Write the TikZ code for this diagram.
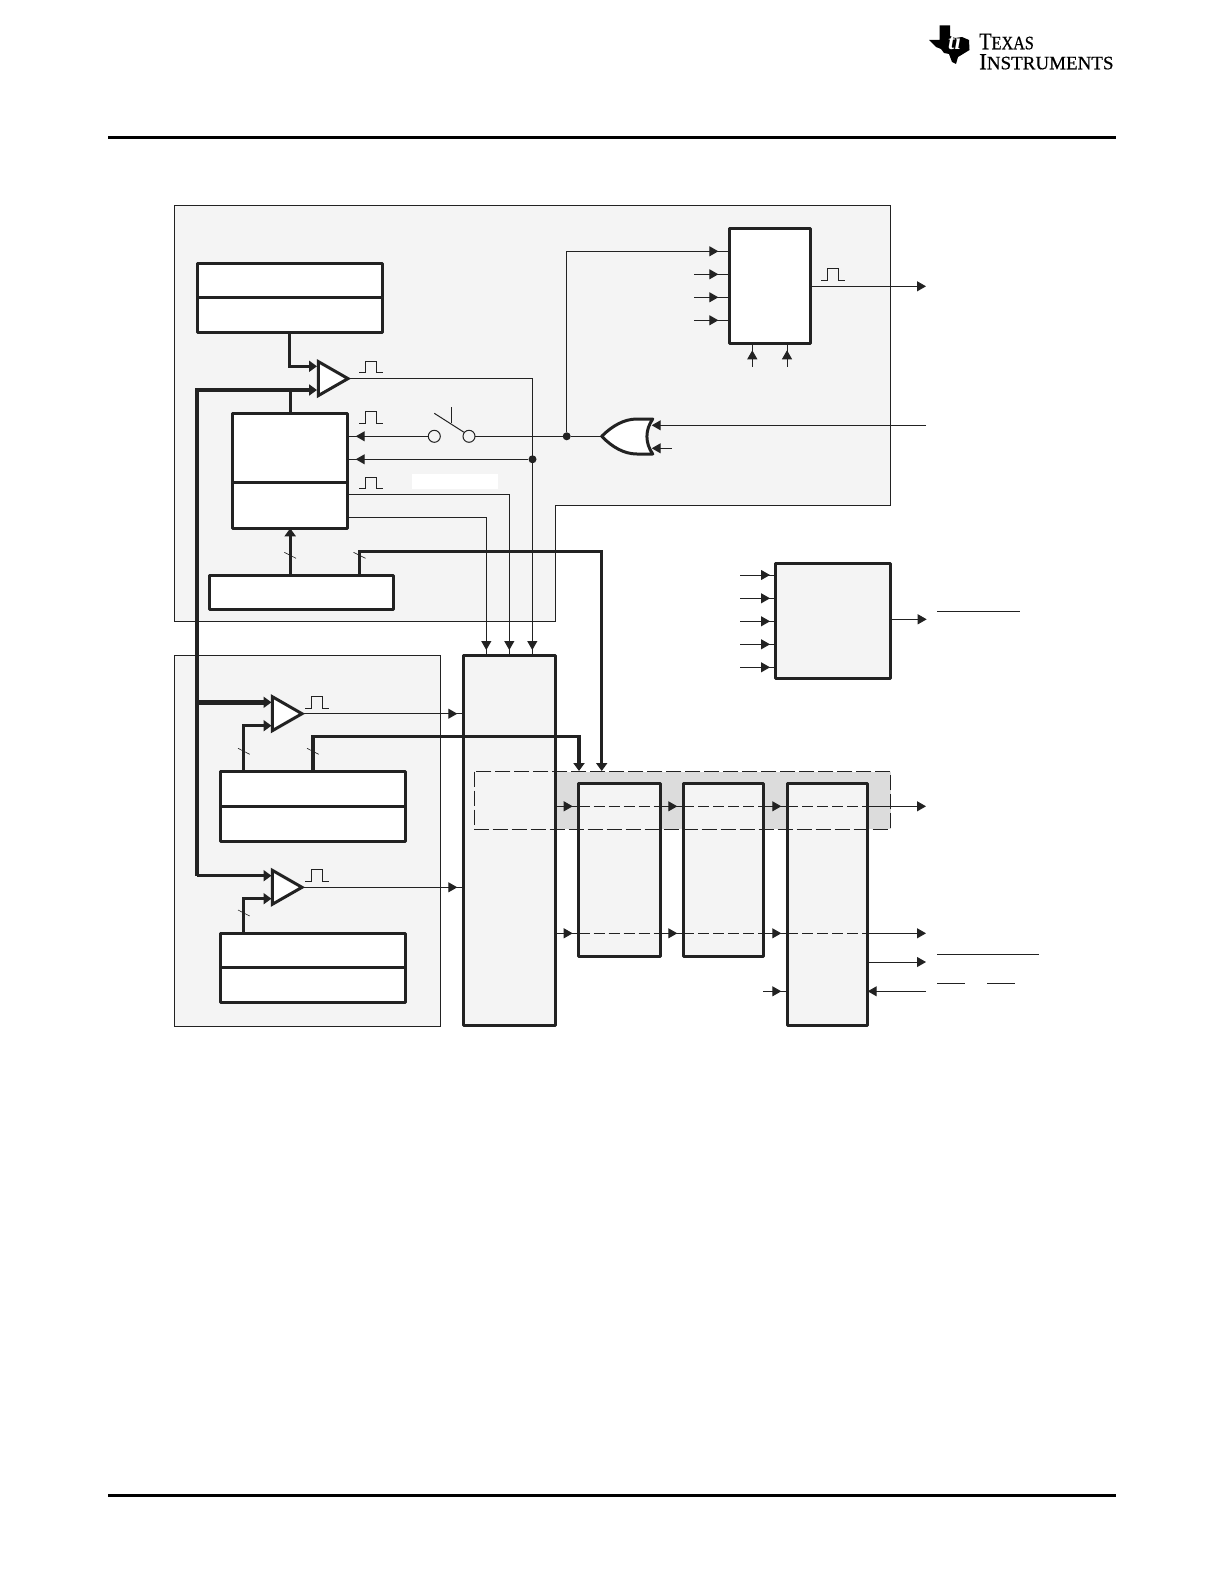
\documentclass[tikz,border=0pt]{standalone}
\usepackage{fontspec}
\setmainfont{Liberation Serif}
\usepackage{xcolor}
\usetikzlibrary{shapes.geometric,arrows.meta,decorations.markings}

\definecolor{inkdark}{HTML}{222222}
\definecolor{panelgrey}{HTML}{F4F4F4}
\definecolor{zonegrey}{HTML}{DCDCDC}

\newcommand{\pulsemark}[2]{\draw[wire,shift={(#1,#2)}] (0,0) -- (6.3,0) -- (6.3,-11.5) -- (17.5,-11.5) -- (17.5,0) -- (23.4,0);}

\tikzset{
  wire/.style={draw=inkdark,line width=1pt},
  wiretip/.style={wire,-{Triangle[length=9pt,width=10pt]}},
  flow/.style={wire,postaction={decorate},decoration={markings,mark=at position -#1pt with {\arrow[inkdark]{Triangle[length=9pt,width=10pt]}}}},
  bus/.style={draw=inkdark,line width=3.4pt,line join=miter},
  bustip/.style={bus,-{Triangle[length=8pt,width=11pt]}},
  hash/.style={draw=inkdark,line width=0.6pt},
  regbox/.style={draw=inkdark,fill=white,line width=3pt,line join=round,inner sep=0pt,outer sep=0pt},
  greybox/.style={regbox,fill=panelgrey},
  amp/.style={isosceles triangle,isosceles triangle stretches,draw=inkdark,fill=white,line width=3pt,inner sep=0pt,outer sep=0pt,minimum width=34pt,minimum height=29.7pt,anchor=apex},
  jointdot/.style={circle,fill=inkdark,inner sep=0pt,minimum size=8pt},
  pincircle/.style={circle,draw=inkdark,line width=1pt,fill=panelgrey,inner sep=0pt,outer sep=0pt,minimum size=12pt},
  dashline/.style={wire,dash pattern=on 11pt off 4pt},
  dashzone/.style={wire,dash pattern=on 15pt off 4pt},
  logotext/.style={anchor=base west,inner sep=0pt,text height=15pt,text depth=0pt},
}

\begin{document}
\begin{tikzpicture}[x=1pt,y=-1pt]
    \useasboundingbox (0,0) rectangle (1224,1584);

    % page rules
    \fill[black] (108,135.8) rectangle (1116,138.8);
    \fill[black] (108,1493.8) rectangle (1116,1496.8);

    % logo
    \fill[black] (939.5,25.5) -- (950,25.5) -- (950,36) -- (955,38) -- (962,37) -- (969,40) -- (969.5,50) -- (963,54) -- (958,57) -- (956,64) -- (952,62) -- (949,54) -- (944,53) -- (941,49) -- (936,47) -- (929,40) -- (939.5,40) -- cycle;
    \node[white,anchor=center,inner sep=0pt] (logoti) at (954.5,42) {\fontsize{23}{23}\selectfont\bfseries\itshape ti};
    \node[logotext] (logoa) at (979,49.3) {\scalebox{0.85}[1]{\addfontfeature{FakeBold=0.6}\fontsize{24}{24}\selectfont T\fontsize{19}{19}\selectfont EXAS}};
    \node[logotext] (logob) at (979,69.3) {\addfontfeature{FakeBold=0.6}\fontsize{23}{23}\selectfont I\fontsize{19}{19}\selectfont NSTRUMENTS};

    % panels
    \draw[wire,fill=panelgrey] (174.5,205.5) -- (890.5,205.5) -- (890.5,505.5) -- (555.5,505.5) -- (555.5,621.5) -- (174.5,621.5) -- cycle;
    \draw[wire,fill=panelgrey] (174.5,655.3) rectangle (440.3,1026.3);
    \fill[white] (412.3,474) rectangle (498.3,489.3);
    \fill[zonegrey] (555.3,771.7) rectangle (890.7,829.3);

    % blocks
    \node[regbox,minimum width=185.3pt,minimum height=69.3pt] (cmpshad) at (289.65,297.65) {};
    \node[regbox,minimum width=115pt,minimum height=115pt] (ctr) at (290.2,470.8) {};
    \node[regbox,minimum width=184.7pt,minimum height=34pt] (prdshad) at (301.35,592.3) {};
    \node[regbox,minimum width=81.4pt,minimum height=115pt] (timer) at (770,285.8) {};
    \node[regbox,minimum width=185.4pt,minimum height=69.6pt] (cmpb) at (313,806.5) {};
    \node[regbox,minimum width=185.4pt,minimum height=69pt] (cmpc) at (313,968.2) {};
    \node[greybox,minimum width=92pt,minimum height=370.3pt] (mux) at (509.3,840.15) {};
    \node[greybox,minimum width=81.3pt,minimum height=173.4pt] (stagea) at (619.35,870) {};
    \node[greybox,minimum width=80.4pt,minimum height=173.4pt] (stageb) at (723.5,870) {};
    \node[greybox,minimum width=80.4pt,minimum height=242.4pt] (stagec) at (827.5,904.5) {};
    \node[greybox,minimum width=115.7pt,minimum height=115pt] (tripbox) at (832.85,620.8) {};

    \draw[regbox] (cmpshad.west |- 0,297.3) -- (cmpshad.east |- 0,297.3);
    \draw[regbox] (ctr.west |- 0,482.3) -- (ctr.east |- 0,482.3);
    \draw[regbox] (cmpb.west |- 0,806) -- (cmpb.east |- 0,806);
    \draw[regbox] (cmpc.west |- 0,967.7) -- (cmpc.east |- 0,967.7);

    % comparators
    \node[amp] (ampa) at (348,378.6) {};
    \node[amp] (ampb) at (302,713.7) {};
    \node[amp] (ampc) at (302,887.3) {};
    \coordinate (ampa-p) at (317,366.3);
    \coordinate (ampa-n) at (317,390);
    \coordinate (ampb-p) at (271.5,702.3);
    \coordinate (ampb-n) at (271.5,725.7);
    \coordinate (ampc-p) at (271.5,875.7);
    \coordinate (ampc-n) at (271.5,898.7);
    \coordinate (bustap) at (197,702.3);
    \coordinate (busend) at (197,875.7);
    \coordinate (dbain) at (579,771);
    \coordinate (dbbin) at (601.7,771);
    \coordinate (dbbtop) at (601.7,551.7);
    \coordinate (dbatop) at (579,736.7);

    % buses
    \draw[bustip] (cmpshad.south) |- (ampa-p);
    \draw[bustip] (busend) |- (ampa-n);
    \draw[bus] (ctr.north) -- (ctr.north |- ampa-n);
    \draw[bustip,line width=4.4pt] (bustap) -- (ampb-p);
    \draw[bustip] (busend) -- (ampc-p);
    \draw[bustip] (cmpb.north -| 243.7,0) |- (ampb-n);
    \draw[bustip] (cmpc.north -| 243.7,0) |- (ampc-n);
    \draw[bustip] (prdshad.north -| ctr.south) -- (ctr.south);
    \draw[bustip] (prdshad.north -| 359.3,0) |- (dbbtop) -- (dbbin);
    \draw[bustip] (cmpb.north) |- (dbatop) -- (dbain);

    % bus width marks
    \draw[hash] (284.3,552.3) -- (296,558.3);
    \draw[hash] (353.5,552.3) -- (365.5,558.3);
    \draw[hash] (238,748.3) -- (249.7,754.3);
    \draw[hash] (307,748.3) -- (318.7,754.3);
    \draw[hash] (238,910) -- (249.7,916);

    % pulse marks
    \pulsemark{359.3}{372.7}
    \pulsemark{359.3}{423.3}
    \pulsemark{359.3}{488.7}
    \pulsemark{821.3}{280.3}
    \pulsemark{305.3}{708.3}
    \pulsemark{305.3}{881.3}

    % action qualifier inputs
    \coordinate (muxin-a) at (532.3,655);
    \coordinate (muxin-b) at (509.3,655);
    \coordinate (muxin-c) at (486.3,655);
    \draw[flow=5] (ampa.apex) -| (muxin-a);
    \draw[flow=5] (ctr.east |- 0,494.3) -| (muxin-b);
    \draw[flow=5] (ctr.east |- 0,517.3) -| (muxin-c);
    \draw[flow=6] (ampb.apex) -- (mux.west |- ampb.apex);
    \draw[flow=6] (ampc.apex) -- (mux.west |- ampc.apex);

    % clock path
    \node[jointdot] (clkdot) at (566.7,436.3) {};
    \node[jointdot] (zerodot) at (532.5,459.3) {};
    \node[pincircle] (swleft) at (434.3,436.3) {};
    \node[pincircle] (swright) at (469,436.3) {};
    \coordinate (swtop) at (434.3,413.3);
    \coordinate (swend) at (464,432.3);
    \draw[wire] (swtop) -- (swend);
    \draw[wire] (451.3,407.3) -- (451.3,423.3);
    \draw[flow=8] (swleft.west) -- (ctr.east |- swleft);
    \draw[flow=8] (zerodot) -- (ctr.east |- zerodot);
    \draw[wire] (swright.east) -- (clkdot);

    % trip gate
    \coordinate (orout) at (601.7,436.3);
    \coordinate (orina) at (651.7,425.3);
    \coordinate (orinb) at (651.7,448.3);
    \coordinate (ortrip) at (926,425.3);
    \coordinate (orfree) at (671.7,448.3);
    \draw[regbox] (601.7,436.3) .. controls (612,426) and (624,419) .. (637,419) -- (652.7,419) .. controls (645,430) and (645,443) .. (652.7,454) -- (637,454) .. controls (624,454) and (612,447) .. (601.7,436.3) -- cycle;
    \draw[wire] (clkdot) -- (orout);
    \draw[wiretip] (ortrip) -- (orina);
    \draw[wiretip] (orfree) -- (orinb);

    % timer inputs
    \coordinate (timertop) at (566.7,251.3);
    \coordinate (timerb) at (694.3,274.3);
    \coordinate (timerc) at (694.3,297.3);
    \coordinate (timerd) at (694.3,320.3);
    \coordinate (timere) at (752.3,366.7);
    \coordinate (timerf) at (787,366.7);
    \coordinate (timerout) at (926,286.3);
    \draw[flow=11] (clkdot) |- (timer.west |- timertop);
    \draw[flow=11] (timerb) -- (timer.west |- timerb);
    \draw[flow=11] (timerc) -- (timer.west |- timerc);
    \draw[flow=11] (timerd) -- (timer.west |- timerd);
    \draw[flow=7] (timere) -- (timere |- timer.south);
    \draw[flow=7] (timerf) -- (timerf |- timer.south);
    \draw[wiretip] (timer.east |- timerout) -- (timerout);

    % trip box
    \coordinate (tripa) at (740,575);
    \coordinate (tripb) at (740,598.3);
    \coordinate (tripc) at (740,621.3);
    \coordinate (tripd) at (740,644.3);
    \coordinate (tripe) at (740,667.3);
    \coordinate (tripout) at (926.7,619.3);
    \draw[flow=5] (tripa) -- (tripbox.west |- tripa);
    \draw[flow=5] (tripb) -- (tripbox.west |- tripb);
    \draw[flow=5] (tripc) -- (tripbox.west |- tripc);
    \draw[flow=5] (tripd) -- (tripbox.west |- tripd);
    \draw[flow=5] (tripe) -- (tripbox.west |- tripe);
    \draw[wiretip] (tripbox.east |- tripout) -- (tripout);
    \draw[wire] (937,611.3) -- (1020,611.3);

    % output rows
    \coordinate (rowa) at (926,806.3);
    \coordinate (rowb) at (926,933.3);
    \coordinate (rowc) at (926,962);
    \coordinate (rowd) at (926,991.3);
    \coordinate (rowsync) at (763.3,991.3);
    \draw[flow=6] (mux.east |- rowa) -- (stagea.west |- rowa);
    \draw[flow=6] (stagea.east |- rowa) -- (stageb.west |- rowa);
    \draw[flow=6] (stageb.east |- rowa) -- (stagec.west |- rowa);
    \draw[wiretip] (stagec.east |- rowa) -- (rowa);
    \draw[flow=6] (mux.east |- rowb) -- (stagea.west |- rowb);
    \draw[flow=6] (stagea.east |- rowb) -- (stageb.west |- rowb);
    \draw[flow=6] (stageb.east |- rowb) -- (stagec.west |- rowb);
    \draw[wiretip] (stagec.east |- rowb) -- (rowb);
    \draw[dashline] (stagea.west |- rowa) -- (stagea.east |- rowa);
    \draw[dashline] (stageb.west |- rowa) -- (stageb.east |- rowa);
    \draw[dashline] (stagec.west |- rowa) -- (stagec.east |- rowa);
    \draw[dashline] (stagea.west |- rowb) -- (stagea.east |- rowb);
    \draw[dashline] (stageb.west |- rowb) -- (stageb.east |- rowb);
    \draw[dashline] (stagec.west |- rowb) -- (stagec.east |- rowb);
    \draw[wiretip] (stagec.east |- rowc) -- (rowc);
    \draw[wiretip] (rowd) -- (stagec.east |- rowd);
    \draw[flow=6] (rowsync) -- (stagec.west |- rowsync);
    \draw[wire] (937.3,954.3) -- (1039,954.3);
    \draw[wire] (937.3,983.3) -- (965,983.3);
    \draw[wire] (987,983.3) -- (1015,983.3);

    % dashed zone outline
    \draw[dashzone] (474.3,771.7) rectangle (890.7,829.3);
\end{tikzpicture}
\end{document}
